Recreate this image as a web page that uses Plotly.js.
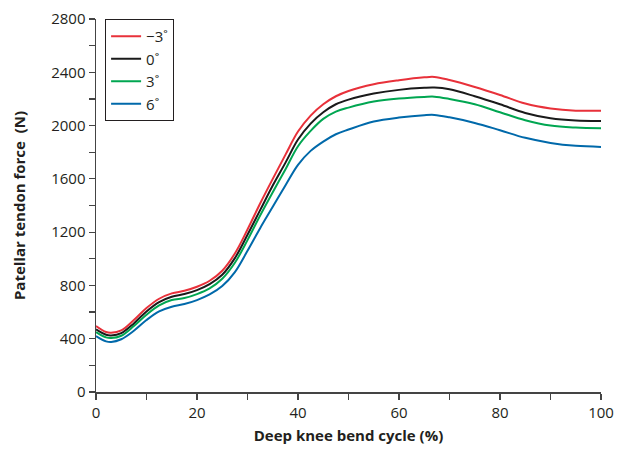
<!DOCTYPE html>
<html>
<head>
<meta charset="utf-8">
<script src="https://cdn.plot.ly/plotly-3.0.1.min.js"></script>
<style>html,body{margin:0;padding:0;background:#fff;}#chart{width:635px;height:454px;}</style>
</head>
<body>
<div id="chart"></div>
<script>
const cycle = [0,2,3,5,7.5,10,12.5,15,17.5,20,22.5,25,27.5,30,32.5,35,37.5,40,42.5,45,47.5,50,55,60,65,67,70,75,80,85,90,95,100];
const forceMinus3 = [495,450,445,462,540,630,700,740,760,790,835,910,1040,1220,1415,1600,1780,1955,2075,2160,2220,2260,2310,2340,2362,2365,2342,2290,2230,2165,2128,2112,2112];
const force0 = [470,430,425,442,515,605,675,715,735,765,810,880,1005,1180,1365,1550,1720,1895,2015,2100,2160,2195,2240,2268,2283,2285,2272,2220,2160,2095,2055,2038,2035];
const force3 = [450,410,405,422,495,580,650,690,705,735,778,850,970,1140,1325,1500,1670,1845,1960,2050,2105,2135,2180,2203,2215,2217,2200,2160,2100,2040,2000,1985,1980];
const force6 = [420,380,375,396,460,540,605,640,660,690,732,795,900,1060,1230,1390,1550,1705,1810,1880,1935,1970,2030,2060,2078,2080,2062,2020,1965,1908,1870,1848,1840];
const seriesNames = ["\u22123\u02DA","0\u02DA","3\u02DA","6\u02DA"];
const seriesColors = ["#e8313a","#1a1a1a","#00a651","#0069aa"];
const seriesData = [forceMinus3, force0, force3, force6];

const font = "'Open Sans', 'Noto Sans', sans-serif";
const traces = seriesData.map((ys, i) => ({
  x: cycle, y: ys, type: 'scatter', mode: 'lines', name: seriesNames[i],
  line: {color: seriesColors[i], width: 2, shape: 'spline', smoothing: 1}
}));

const layout = {
  width: 635, height: 454,
  margin: {l: 96, r: 34, t: 19, b: 62},
  paper_bgcolor: '#fff', plot_bgcolor: '#fff',
  font: {family: font, size: 15, color: '#231f20'},
  showlegend: true,
  legend: {x: 0.018, y: 1.0, xanchor: 'left', yanchor: 'top', bgcolor: '#fff',
           bordercolor: '#231f20', borderwidth: 1, font: {size: 15, family: font},
           itemwidth: 30, tracegroupgap: 0},
  xaxis: {range: [0, 100], dtick: 20, tick0: 0, ticks: 'outside', ticklen: 6, tickwidth: 1.2,
          tickcolor: '#444', showline: true, linecolor: '#444', linewidth: 1.5, showgrid: false,
          zeroline: false, tickfont: {size: 15},
          minor: {dtick: 10, ticks: 'outside', ticklen: 6, tickwidth: 1.2, tickcolor: '#444', showgrid: false},
          title: {text: '<b>Deep knee bend cycle (%)</b>', font: {size: 15}, standoff: 10}},
  yaxis: {range: [0, 2800], dtick: 400, tick0: 0, ticks: 'outside', ticklen: 6, tickwidth: 1.2,
          tickcolor: '#444', showline: true, linecolor: '#444', linewidth: 1.5, showgrid: false,
          zeroline: false, tickfont: {size: 15},
          minor: {dtick: 200, ticks: 'outside', ticklen: 6, tickwidth: 1.2, tickcolor: '#444', showgrid: false},
          title: {text: '<b>Patellar tendon force  (N)</b>', font: {size: 15}, standoff: 22}}
};
Plotly.newPlot('chart', traces, layout, {displayModeBar: false, staticPlot: true});
</script>
</body>
</html>
